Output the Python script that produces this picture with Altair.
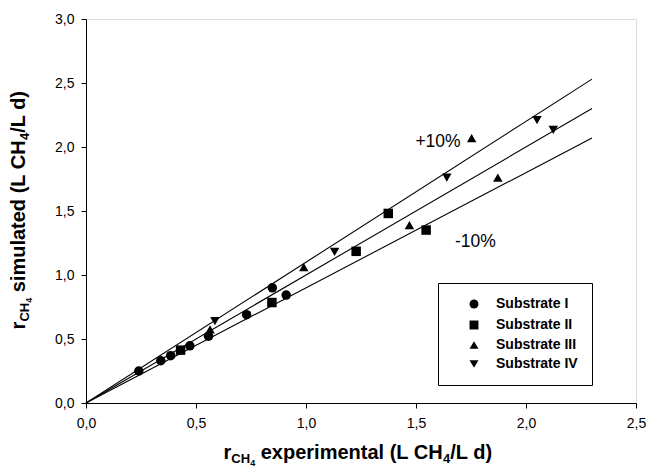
import altair as alt
import pandas as pd

FONT = "Liberation Sans"

# Methane production rate r_CH4 (L CH4/L d): experimental vs. simulated
substrates = ["Substrate I", "Substrate II", "Substrate III", "Substrate IV"]
markers = ["circle", "square", "triangle-up", "triangle-down"]

exp_I = [0.24, 0.34, 0.385, 0.472, 0.557, 0.73, 0.847, 0.91]
sim_I = [0.25, 0.33, 0.37, 0.447, 0.522, 0.69, 0.90, 0.843]

exp_II = [0.43, 0.845, 1.228, 1.374, 1.546]
sim_II = [0.413, 0.785, 1.185, 1.481, 1.351]

exp_III = [0.564, 0.99, 1.47, 1.753, 1.872]
sim_III = [0.575, 1.062, 1.39, 2.07, 1.76]

exp_IV = [0.586, 1.13, 1.64, 2.05, 2.124]
sim_IV = [0.64, 1.18, 1.76, 2.21, 2.133]

# reference lines y = k * x (perfect fit and +/-10 %)
band_slopes = [1.1, 1.0, 0.9]
band_end = 2.3

band_labels = ["+10%", "-10%"]
band_label_x = [1.60, 1.77]
band_label_y = [2.04, 1.26]

x_ticks = [0.0, 0.5, 1.0, 1.5, 2.0, 2.5]
y_ticks = [0.0, 0.5, 1.0, 1.5, 2.0, 2.5, 3.0]

# ---------------------------------------------------------------- tables
rows = []
for name, xs, ys in zip(substrates,
                        [exp_I, exp_II, exp_III, exp_IV],
                        [sim_I, sim_II, sim_III, sim_IV]):
    for a, b in zip(xs, ys):
        rows.append({"substrate": name, "exp": a, "sim": b})
points_df = pd.DataFrame(rows)

line_rows = []
for k in band_slopes:
    line_rows.append({"k": k, "exp": 0.0, "sim": 0.0})
    line_rows.append({"k": k, "exp": band_end, "sim": band_end * k})
lines_df = pd.DataFrame(line_rows)

labels_df = pd.DataFrame({"t": band_labels, "exp": band_label_x, "sim": band_label_y})

# ---------------------------------------------------------------- scales / axes
comma = "replace(format(datum.value, '.1f'), '.', ',')"
axis_style = dict(
    title=None, grid=False, labelExpr=comma, labelFont=FONT, labelFontSize=14,
    labelColor="black", domainColor="black", tickColor="black", tickSize=5,
    labelFlush=False, labelOverlap=False,
)
x_enc = alt.X("exp:Q", scale=alt.Scale(domain=[0, 2.5], nice=False),
              axis=alt.Axis(values=x_ticks, labelPadding=8, **axis_style))
y_enc = alt.Y("sim:Q", scale=alt.Scale(domain=[0, 3.0], nice=False),
              axis=alt.Axis(values=y_ticks, labelPadding=7, **axis_style))

lines = alt.Chart(lines_df).mark_line(color="black", strokeWidth=1.1).encode(
    x=x_enc, y=y_enc, detail="k:N"
)

points = alt.Chart(points_df).mark_point(
    filled=True, color="black", size=90, opacity=1
).encode(
    x=x_enc, y=y_enc,
    shape=alt.Shape(
        "substrate:N",
        scale=alt.Scale(domain=substrates, range=markers),
        legend=alt.Legend(
            title=None, orient="none", legendX=352, legendY=264,
            strokeColor="black", fillColor="white", padding=14,
            symbolOffset=15, labelOffset=15, rowPadding=5,
            symbolSize=80, symbolFillColor="black", symbolStrokeColor="black",
            labelFont=FONT, labelFontSize=14, labelFontWeight="bold",
            labelColor="black",
        ),
    ),
)

band_text = alt.Chart(labels_df).mark_text(
    font=FONT, fontSize=17.5, color="black", align="center", baseline="middle"
).encode(x=x_enc, y=y_enc, text="t:N")

# ---------------------------------------------------------------- axis titles with subscripts
ARIAL_BOLD = {" ": 278, "(": 333, ")": 333, "/": 278, "4": 556, "C": 722, "H": 722,
              "L": 611, "a": 556, "d": 611, "e": 556, "i": 278, "l": 278, "m": 889,
              "n": 611, "p": 611, "r": 389, "s": 556, "t": 333, "u": 611, "x": 556}


def text_width(s, size):
    return sum(ARIAL_BOLD[c] for c in s) * size / 1000.0


def title_layers(pieces, center, base, vertical):
    total = sum(text_width(t, s) for t, s, _ in pieces)
    pos = center + total / 2 if vertical else center - total / 2
    out = []
    for t, s, drop in pieces:
        w = text_width(t, s)
        if t.strip():
            if vertical:
                px, py, ang = base + drop, pos, 270
            else:
                px, py, ang = pos, base + drop, 0
            out.append(
                alt.Chart(pd.DataFrame({"t": [t]})).mark_text(
                    align="left", baseline="alphabetic", font=FONT,
                    fontWeight="bold", fontSize=s, angle=ang, x=px, y=py,
                    color="black",
                ).encode(text="t:N")
            )
        pos = pos - w if vertical else pos + w
    return out


MAIN, SUB, SUBSUB = 20, 13, 9
x_title = [("r", MAIN, 0), ("CH", SUB, 4), ("4", SUBSUB, 7), (" ", MAIN, 0),
           ("experimental (L CH", MAIN, 0), ("4", SUB, 4), ("/L d)", MAIN, 0)]
y_title = [("r", MAIN, 0), ("CH", SUB, 4), ("4", SUBSUB, 7), (" ", MAIN, 0),
           ("simulated (L CH", MAIN, 0), ("4", SUB, 4), ("/L d)", MAIN, 0)]

title_parts = title_layers(x_title, 272, 440, False) + title_layers(y_title, 191, -61, True)

chart = alt.layer(lines, points, band_text, *title_parts).properties(
    width=550, height=384,
    padding={"left": 86, "top": 19, "right": 12, "bottom": 71},
    autosize=alt.AutoSizeParams(type="none"),
).configure_view(stroke="black", strokeWidth=1.2).configure(background="white")

chart.save("out.html", embed_options={"renderer": "svg", "actions": False})
